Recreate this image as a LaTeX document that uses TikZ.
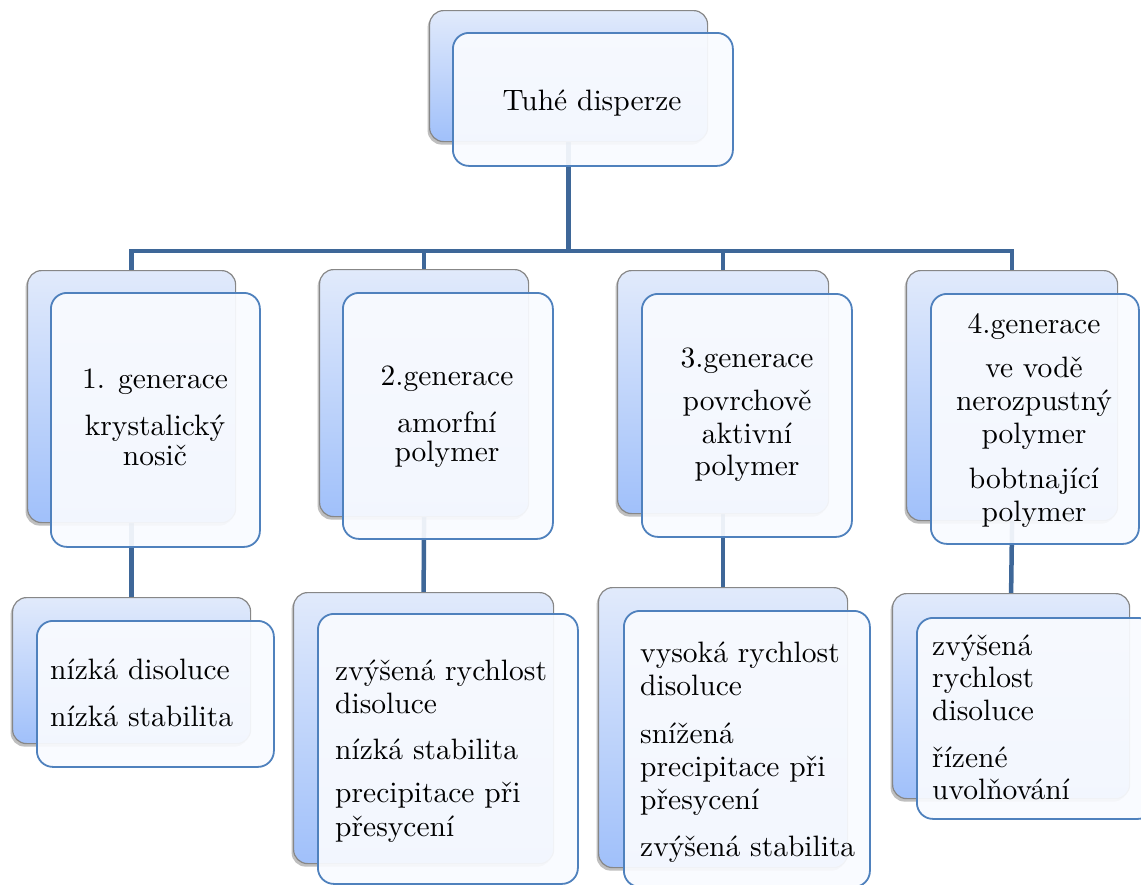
\documentclass[tikz,border=0pt]{standalone}
\usepackage{fontspec}
\setmainfont{lmroman10}[Extension=.otf, UprightFont=*-regular, BoldFont=*-bold, ItalicFont=*-italic, BoldItalicFont=*-bolditalic]
\usetikzlibrary{shadows}
\pgfdeclarelayer{bg}
\pgfsetlayers{bg,main}
\definecolor{connc}{RGB}{62,103,152}
\definecolor{frontb}{RGB}{79,129,189}
\definecolor{backtop}{RGB}{225,234,251}
\definecolor{backbot}{RGB}{160,192,250}
\definecolor{backb}{RGB}{135,135,135}
\definecolor{frontf}{RGB}{249,251,255}
\tikzset{
  backbox/.style={draw=backb, line width=1.2pt, rounded corners=14pt, top color=backtop, bottom color=backbot,
    anchor=north west, inner sep=0pt, drop shadow={shadow xshift=-2pt, shadow yshift=-3pt, opacity=0.25, fill=black}},
  frontbox/.style={draw=frontb, line width=1.8pt, rounded corners=16pt, fill=frontf, fill opacity=0.93,
    anchor=north west, inner sep=0pt},
  conn/.style={draw=connc, line width=4.5pt},
  ctxt/.style={inner sep=0pt, anchor=north, align=center},
  ltxt/.style={inner sep=0pt, anchor=north west, align=left},
}
\begin{document}
\begin{tikzpicture}[x=1pt, y=-1pt]
\useasboundingbox (0,0) rectangle (1141,884);
\coordinate (bus) at (0,251);
% ---- back boxes
\node[backbox, minimum width=278pt, minimum height=131pt] (t0b) at (429,10) {};
\node[backbox, minimum width=208pt, minimum height=252pt] (a1b) at (27,270) {};
\node[backbox, minimum width=209pt, minimum height=247pt] (a2b) at (319,269) {};
\node[backbox, minimum width=211pt, minimum height=243pt] (a3b) at (617,270) {};
\node[backbox, minimum width=211pt, minimum height=250pt] (a4b) at (906,270) {};
\node[backbox, minimum width=238pt, minimum height=146pt] (b1b) at (12,597) {};
\node[backbox, minimum width=260pt, minimum height=271pt] (b2b) at (293,592) {};
\node[backbox, minimum width=249pt, minimum height=280pt] (b3b) at (598,587) {};
\node[backbox, minimum width=237pt, minimum height=205pt] (b4b) at (892,593) {};
% ---- connectors behind everything
\begin{pgfonlayer}{bg}
  \draw[conn] (t0b.south) -- (t0b.south |- bus) -| (a1b.north);
  \draw[conn] (t0b.south |- bus) -| (a2b.north);
  \draw[conn] (t0b.south |- bus) -| (a3b.north);
  \draw[conn] (t0b.south |- bus) -| (a4b.north);
  \draw[conn] (a1b.south) -- (b1b.north);
  \draw[conn] (a2b.south) -- (b2b.north);
  \draw[conn] (a3b.south) -- (b3b.north);
  \draw[conn] (a4b.south) -- (b4b.north);
\end{pgfonlayer}
% ---- front boxes
\node[frontbox, minimum width=280pt, minimum height=133pt] (t0f) at (452,32) {};
\node[frontbox, minimum width=209pt, minimum height=254pt] (a1f) at (50,292) {};
\node[frontbox, minimum width=210pt, minimum height=246pt] (a2f) at (342,292) {};
\node[frontbox, minimum width=210pt, minimum height=243pt] (a3f) at (641,293) {};
\node[frontbox, minimum width=208pt, minimum height=250pt] (a4f) at (930,293) {};
\node[frontbox, minimum width=237pt, minimum height=146pt] (b1f) at (36,620) {};
\node[frontbox, minimum width=260pt, minimum height=270pt] (b2f) at (317,613) {};
\node[frontbox, minimum width=246pt, minimum height=276pt] (b3f) at (623,610) {};
\node[frontbox, minimum width=237pt, minimum height=201pt] (b4f) at (916,617) {};
% ---- texts
\node[ctxt, font=\fontsize{29.5}{33}\selectfont] (t0t) at (592,89.3) {Tuhé disperze};
\node[ctxt, font=\fontsize{29.5}{30}\selectfont] (a1t) at (155,369)
  {1. generace\\[17pt]krystalický\\nosič};
\node[ctxt, font=\fontsize{29.5}{29}\selectfont] (a2t) at (447,366)
  {2.generace\\[18pt]amorfní\\polymer};
\node[ctxt, font=\fontsize{29.5}{32.5}\selectfont] (a3t) at (747,348)
  {3.generace\\[10.5pt]povrchově\\aktivní\\polymer};
\node[ctxt, font=\fontsize{29.5}{33}\selectfont] (a4t) at (1034,313)
  {4.generace\\[11pt]ve vodě\\nerozpustný\\polymer\\[12pt]bobtnající\\polymer};
\node[ltxt, font=\fontsize{29.5}{33}\selectfont] (b1t) at (50,658.3)
  {nízká disoluce\\[14pt]nízká stabilita};
\node[ltxt, font=\fontsize{29.5}{33.5}\selectfont] (b2t) at (335,659.3)
  {zvýšená rychlost\\disoluce\\[12pt]nízká stabilita\\[10pt]precipitace při\\přesycení};
\node[ltxt, font=\fontsize{29.5}{33}\selectfont] (b3t) at (640,641.3)
  {vysoká rychlost\\disoluce\\[15pt]snížená\\precipitace při\\přesycení\\[14pt]zvýšená stabilita};
\node[ltxt, font=\fontsize{29.5}{32.5}\selectfont] (b4t) at (932,634.3)
  {zvýšená\\rychlost\\disoluce\\[14.5pt]řízené\\uvolňování};
\end{tikzpicture}
\end{document}
